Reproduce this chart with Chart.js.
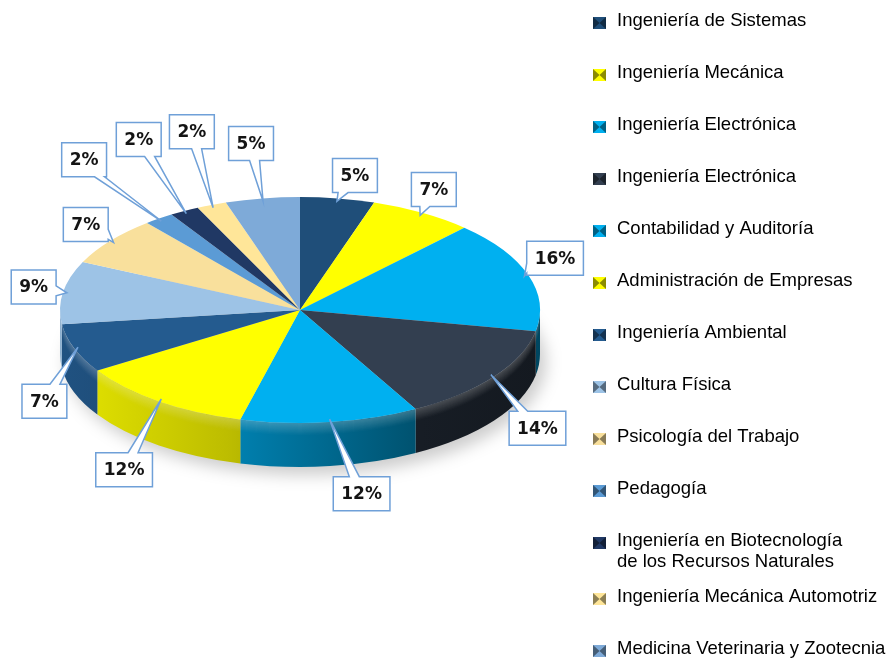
<!DOCTYPE html>
<html>
<head>
<meta charset="utf-8">
<script src="https://cdn.jsdelivr.net/npm/chart.js@4.4.0/dist/chart.umd.min.js"></script>
<style>
html,body{margin:0;padding:0;background:#fff;}
#wrap{width:889px;height:658px;position:relative;}
</style>
</head>
<body>
<div id="wrap"><canvas id="c" width="889" height="658"></canvas></div>
<script>
// ---- data ----
const categories = [
  'Ingeniería de Sistemas',
  'Ingeniería Mecánica',
  'Ingeniería Electrónica',
  'Ingeniería Electrónica',
  'Contabilidad y Auditoría',
  'Administración de Empresas',
  'Ingeniería Ambiental',
  'Cultura Física',
  'Psicología del Trabajo',
  'Pedagogía',
  'Ingeniería en Biotecnología\nde los Recursos Naturales',
  'Ingeniería Mecánica Automotriz',
  'Medicina Veterinaria y Zootecnia'
];
const percentages = [5, 7, 16, 14, 12, 12, 7, 9, 7, 2, 2, 2, 5];
const percentLabels = percentages.map(v => v + '%');
const sliceColors = ['#1F4E79','#FFFF00','#00B0F0','#333F50','#00B0F0','#FFFF00','#245B8F','#9DC3E6','#F9E09C','#5B9BD5','#203864','#FFE699','#7EAAD8'];

// ---- helpers ----
function shade(hex, f) {
  const n = parseInt(hex.slice(1), 16);
  const r = Math.round(((n >> 16) & 255) * f), g = Math.round(((n >> 8) & 255) * f), b = Math.round((n & 255) * f);
  return 'rgb(' + Math.min(255,r) + ',' + Math.min(255,g) + ',' + Math.min(255,b) + ')';
}

// 3D look: squash the pie vertically and extrude a side wall
const pie3d = {
  id: 'pie3d',
  beforeDatasetsDraw(chart, args, opts) {
    const arcs = chart.getDatasetMeta(0).data;
    if (!arcs.length) return;
    const ctx = chart.ctx;
    const cx = arcs[0].x, cy = arcs[0].y, rx = arcs[0].outerRadius;
    const ry = rx * opts.squash, d = opts.depth;
    ctx.save();
    // soft shadow
    ctx.save();
    ctx.filter = 'blur(8px)';
    ctx.fillStyle = 'rgba(0,0,0,0.20)';
    ctx.beginPath();
    ctx.ellipse(cx + 6, cy + d + 8, rx, ry, 0, 0, Math.PI * 2);
    ctx.fill();
    ctx.restore();
    // side walls (front half only)
    arcs.forEach((arc, i) => {
      const s = Math.max(arc.startAngle, 0), e = Math.min(arc.endAngle, Math.PI);
      if (s >= e) return;
      const c = sliceColors[i];
      const g = ctx.createLinearGradient(cx - rx, 0, cx + rx, 0);
      g.addColorStop(0, shade(c, 0.9));
      g.addColorStop(0.35, shade(c, 0.74));
      g.addColorStop(0.75, shade(c, 0.46));
      g.addColorStop(1, shade(c, 0.4));
      ctx.beginPath();
      ctx.ellipse(cx, cy, rx, ry, 0, s, e);
      ctx.ellipse(cx, cy + d, rx, ry, 0, e, s, true);
      ctx.closePath();
      ctx.fillStyle = g;
      ctx.fill();
    });
    // rounded bevel highlight on the upper part of the wall (fading strips)
    ctx.save();
    ctx.beginPath();
    ctx.ellipse(cx, cy, rx, ry, 0, 0, Math.PI);
    ctx.ellipse(cx, cy + d, rx, ry, 0, Math.PI, 0, true);
    ctx.closePath();
    ctx.clip();
    const nb = 12;
    for (let k = 0; k < nb; k++) {
      ctx.beginPath();
      ctx.ellipse(cx, cy + k, rx, ry, 0, 0, Math.PI);
      ctx.ellipse(cx, cy + k + 1, rx, ry, 0, Math.PI, 0, true);
      ctx.closePath();
      ctx.fillStyle = 'rgba(255,255,255,' + (0.22 * (1 - k / nb)).toFixed(3) + ')';
      ctx.fill();
    }
    ctx.restore();
    // top face transform
    ctx.translate(cx, cy);
    ctx.scale(1, opts.squash);
    ctx.translate(-cx, -cy);
  },
  afterDatasetsDraw(chart) {
    chart.ctx.restore();
  }
};

// callout boxes with percentages
const callouts = {
  id: 'callouts',
  afterDraw(chart, args, opts) {
    const arcs = chart.getDatasetMeta(0).data;
    if (!arcs.length) return;
    const ctx = chart.ctx;
    const sq = chart.options.plugins.pie3d.squash, d = chart.options.plugins.pie3d.depth;
    const cx = arcs[0].x, cy = arcs[0].y, rx = arcs[0].outerRadius, ry = rx * sq;
    ctx.save();
    ctx.font = 'bold 17px "DejaVu Sans"';
    arcs.forEach((arc, i) => {
      const mid = (arc.startAngle + arc.endAngle) / 2;
      const co = Math.cos(mid), si = Math.sin(mid);
      const tip = { x: cx + (rx - 4) * co, y: cy + (ry - 3) * si };
      const txt = percentLabels[i];
      const w = ctx.measureText(txt).width + 16, h = 34, hw = w / 2, hh = h / 2;
      const L = opts.gap + Math.min(Math.abs(co) > 1e-6 ? hw / Math.abs(co) : 1e9, Math.abs(si) > 1e-6 ? hh / Math.abs(si) : 1e9);
      const nudge = opts.nudge[i] || [0, 0];
      const bx = tip.x + L * co + nudge[0];
      const by = tip.y + L * si + d * Math.max(0, si) + nudge[1];
      const l = bx - hw, r = bx + hw, t = by - hh, b = by + hh;
      const vx = tip.x - bx, vy = tip.y - by;
      let side;
      if (Math.abs(vx) * hh > Math.abs(vy) * hw) side = vx > 0 ? 'right' : 'left';
      else side = vy > 0 ? 'bottom' : 'top';
      const clamp = (v, a, z) => Math.max(a, Math.min(z, v));
      const wb = 5;
      let px, py;
      if (side === 'top' || side === 'bottom') px = clamp(bx + vx * (hh / Math.abs(vy)), l + 7, r - 7);
      else py = clamp(by + vy * (hw / Math.abs(vx)), t + 7, b - 7);
      ctx.beginPath();
      ctx.moveTo(l, t);
      if (side === 'top') { ctx.lineTo(px - wb, t); ctx.lineTo(tip.x, tip.y); ctx.lineTo(px + wb, t); }
      ctx.lineTo(r, t);
      if (side === 'right') { ctx.lineTo(r, py - wb); ctx.lineTo(tip.x, tip.y); ctx.lineTo(r, py + wb); }
      ctx.lineTo(r, b);
      if (side === 'bottom') { ctx.lineTo(px + wb, b); ctx.lineTo(tip.x, tip.y); ctx.lineTo(px - wb, b); }
      ctx.lineTo(l, b);
      if (side === 'left') { ctx.lineTo(l, py + wb); ctx.lineTo(tip.x, tip.y); ctx.lineTo(l, py - wb); }
      ctx.closePath();
      ctx.fillStyle = '#ffffff';
      ctx.fill();
      ctx.lineWidth = 1.5;
      ctx.strokeStyle = '#6FA0D8';
      ctx.lineJoin = 'miter';
      ctx.stroke();
      ctx.fillStyle = '#141414';
      ctx.textAlign = 'center';
      ctx.textBaseline = 'middle';
      ctx.fillText(txt, bx, by + 1);
    });
    ctx.restore();
  }
};

// legend on the right
const sideLegend = {
  id: 'sideLegend',
  afterDraw(chart, args, opts) {
    const ctx = chart.ctx;
    ctx.save();
    ctx.font = '18.5px "Liberation Sans", Arial, sans-serif';
    ctx.textAlign = 'left';
    ctx.textBaseline = 'middle';
    let y = opts.y0;
    categories.forEach((cat, i) => {
      const lines = cat.split('\n');
      const c = sliceColors[i];
      const mx = opts.markerX, my = y - 4, mw = 13, mh = 12;
      ctx.fillStyle = shade(c, 1);
      ctx.fillRect(mx, my, mw, mh);
      ctx.fillStyle = shade(c, 0.55);
      ctx.beginPath(); ctx.moveTo(mx, my); ctx.lineTo(mx + mw / 2, my + mh / 2); ctx.lineTo(mx, my + mh); ctx.closePath(); ctx.fill();
      ctx.beginPath(); ctx.moveTo(mx + mw, my); ctx.lineTo(mx + mw / 2, my + mh / 2); ctx.lineTo(mx + mw, my + mh); ctx.closePath(); ctx.fill();
      ctx.fillStyle = '#000000';
      lines.forEach((ln, j) => ctx.fillText(ln, opts.textX, y + j * opts.lineH));
      y += opts.step + (lines.length - 1) * opts.extra;
    });
    ctx.restore();
  }
};

new Chart(document.getElementById('c').getContext('2d'), {
  type: 'pie',
  data: {
    labels: categories,
    datasets: [{
      data: percentages,
      backgroundColor: sliceColors,
      borderWidth: 0,
      hoverOffset: 0,
      offset: 0,
      clip: false
    }]
  },
  options: {
    responsive: false,
    animation: false,
    events: [],
    layout: { padding: { left: 60, right: 349, top: 70, bottom: 108 } },
    plugins: {
      legend: { display: false },
      tooltip: { enabled: false },
      pie3d: { squash: 113 / 240, depth: 44 },
      callouts: {
        gap: 15,
        nudge: [[13, 6], [-4, 4], [-12, -4], [11, 2], [28, -1], [-16, 6], [3, 26], [4, 0], [6, 8], [-56, -32], [-31, -44], [-9, -45], [-7, -26]]
      },
      sideLegend: { markerX: 593, textX: 617, y0: 21, step: 52, lineH: 21, extra: 4 }
    }
  },
  plugins: [pie3d, callouts, sideLegend]
});
</script>
</body>
</html>
